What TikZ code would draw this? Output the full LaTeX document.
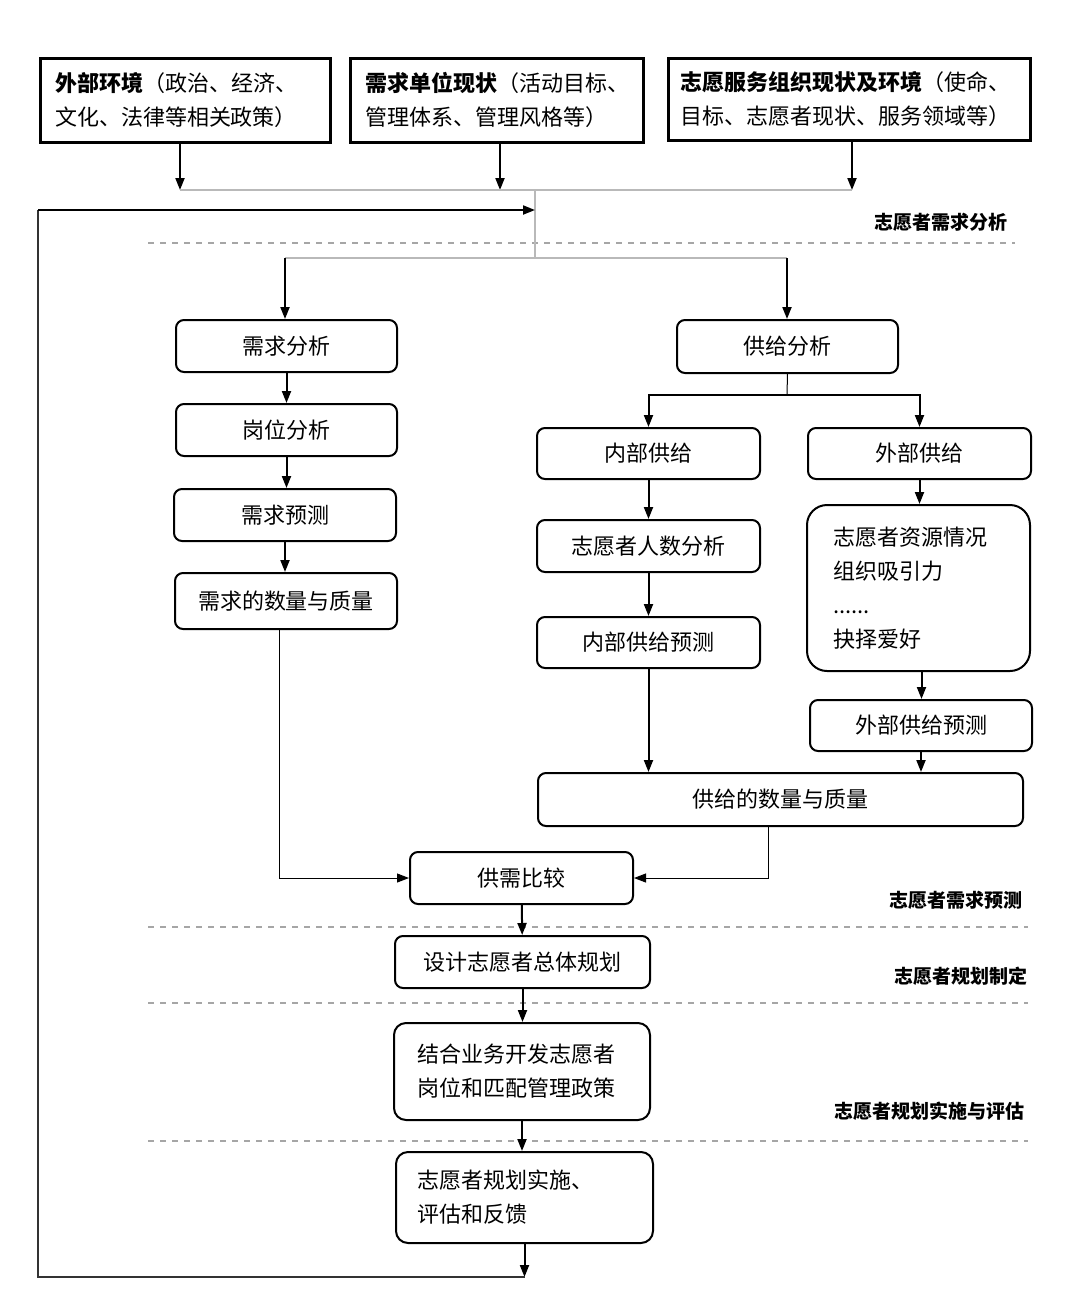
\documentclass[tikz,border=0pt]{standalone}
\usepackage{fontspec}
\setmainfont{Noto Sans CJK SC}
\usetikzlibrary{arrows.meta,positioning,calc}

\begin{document}
\begin{tikzpicture}[x=0.5pt, y=-0.5pt,
    every node/.style={font=\fontsize{11}{17}\selectfont},
    topbox/.style={rectangle, draw, line width=1.5pt, align=left, inner xsep=7.5pt, inner ysep=0pt, minimum height=42pt},
    stepbox/.style={rectangle, draw, rounded corners=4pt, line width=1pt, align=center, inner sep=0pt, minimum height=26pt},
    notebox/.style={stepbox, align=left, inner xsep=11pt},
    phase/.style={anchor=east, font=\fontsize{9.5}{11}\selectfont\bfseries},
    arr/.style={-{Triangle[length=6pt,width=4.5pt]}, line width=1pt},
    thinarr/.style={-{Triangle[length=6pt,width=4.5pt]}, line width=0.5pt},
    feed/.style={line width=1pt, black!80},
    sep/.style={dashed, gray!70, line width=0.6pt},
    grayline/.style={gray!55, line width=1pt}]
  \useasboundingbox (0,0) rectangle (1080,1303);

  % inputs
  \node[topbox, text width=130pt] (env) at (185,100) {\textbf{外部环境}（政治、经济、\\文化、法律等相关政策）};
  \node[topbox, text width=131.5pt] (unit) at (496.5,100) {\textbf{需求单位现状}（活动目标、\\管理体系、管理风格等）};
  \node[topbox, text width=169pt, inner xsep=6pt, minimum height=41pt] (org) at (849,99) {\textbf{志愿服务组织现状及环境}（使命、\\目标、志愿者现状、服务领域等）};

  % junctions
  \coordinate (m1) at (180,190);
  \coordinate (m2) at (500,190);
  \coordinate (m3) at (852,190);
  \coordinate (hub) at (535,190);
  \coordinate (loopin) at (535,210);
  \coordinate (split) at (535,258);
  \coordinate (sl1) at (285,258);
  \coordinate (sr1) at (787,258);
  \coordinate (gsplit) at (787,395);
  \coordinate (loopend) at (524.5,1277);
  \coordinate (lc) at (38,210);

  % phase separators
  \draw[sep] (148,243) -- (1015,243);
  \draw[sep] (148,927) -- (1028,927);
  \draw[sep] (148,1003) -- (1028,1003);
  \draw[sep] (148,1141) -- (1028,1141);
  \node[phase] (p1) at (1015,222) {志愿者需求分析};
  \node[phase] (p2) at (1030,900) {志愿者需求预测};
  \node[phase] (p3) at (1035,976) {志愿者规划制定};
  \node[phase] (p4) at (1032,1111) {志愿者规划实施与评估};

  % demand side
  \node[stepbox, minimum width=110.5pt] (xq) at (286.5,346) {需求分析};
  \node[stepbox, minimum width=110.5pt] (gw) at (286.5,430) {岗位分析};
  \node[stepbox, minimum width=111pt] (yc) at (285,515) {需求预测};
  \node[stepbox, minimum width=111pt, minimum height=28pt] (sl) at (286,601) {需求的数量与质量};

  % supply side
  \node[stepbox, minimum width=110.5pt, minimum height=26.5pt] (gj) at (787.5,346.5) {供给分析};
  \node[stepbox, minimum width=111.5pt, minimum height=25.5pt] (nb) at (648.5,453.5) {内部供给};
  \node[stepbox, minimum width=111.5pt, minimum height=25.5pt] (wb) at (919.5,453.5) {外部供给};
  \node[stepbox, minimum width=111.5pt] (rs) at (648.5,546) {志愿者人数分析};
  \node[stepbox, minimum width=111.5pt, minimum height=25.5pt] (nbyc) at (648.5,642.5) {内部供给预测};
  \node[notebox, rounded corners=10pt, text width=85.5pt, inner xsep=13pt, minimum height=83pt] (zy) at (918.5,588) {志愿者资源情况\\组织吸引力\\......\\抉择爱好};
  \node[stepbox, minimum width=111pt, minimum height=25.5pt] (wbyc) at (921,725.5) {外部供给预测};
  \node[stepbox, minimum width=242.5pt, minimum height=26.5pt] (gjsl) at (780.5,799.5) {供给的数量与质量};

  % planning
  \node[stepbox, minimum width=111.5pt] (bj) at (521.5,878) {供需比较};
  \node[stepbox, minimum width=127.5pt] (sj) at (522.5,962) {设计志愿者总体规划};
  \node[notebox, text width=105pt, inner xsep=11.5pt, minimum height=48.5pt, rounded corners=6pt] (jh) at (522,1071.5) {结合业务开发志愿者\\岗位和匹配管理政策};
  \node[notebox, text width=107.5pt, inner xsep=10.5pt, minimum height=45.5pt, rounded corners=6pt] (ss) at (524.5,1197.5) {志愿者规划实施、\\评估和反馈};

  % connectors
  \draw[arr] (env.south -| m1) -- (m1);
  \draw[arr] (unit.south -| m2) -- (m2);
  \draw[arr] (org.south -| m3) -- (m3);
  \draw[grayline] (m1) -- (m3);
  \draw[grayline] (hub) -- (split);
  \draw[grayline] (sl1) -- (sr1);
  \draw[arr] (sl1) -- (sl1 |- xq.north);
  \draw[arr] (sr1) -- (sr1 |- gj.north);

  \draw[arr] (xq) -- (gw);
  \draw[arr] (gw.south) -- (gw.south |- yc.north);
  \draw[arr] (yc.south) -- (yc.south |- sl.north);

  \draw[line width=0.5pt] (gj.south) -- (gsplit);
  \draw[arr] (gsplit) -| (nb.north);
  \draw[arr] (gsplit) -| (wb.north);
  \draw[arr] (nb) -- (rs);
  \draw[arr] (rs) -- (nbyc);
  \draw[arr] (nbyc.south) -- (nbyc.south |- gjsl.north);
  \draw[arr] (wb.south) -- (wb.south |- zy.north);
  \draw[arr] ($(zy.south)+(3,0)$) -- ($(zy.south |- wbyc.north)+(3,0)$);
  \draw[arr] (wbyc.south) -- (wbyc.south |- gjsl.north);

  \draw[thinarr] ($(sl.south)+(-7,0)$) |- (bj.west);
  \draw[thinarr] ($(gjsl.south)+(-12,0)$) |- (bj.east);

  \draw[arr] (bj) -- (sj);
  \draw[arr] (sj.south) -- (sj.south |- jh.north);
  \draw[arr] (jh.south) -- (jh.south |- ss.north);
  \draw[arr] (ss.south) -- (loopend);

  % feedback loop
  \draw[feed] (loopend) -| (lc);
  \draw[arr] (lc) -- (loopin);
\end{tikzpicture}
\end{document}
